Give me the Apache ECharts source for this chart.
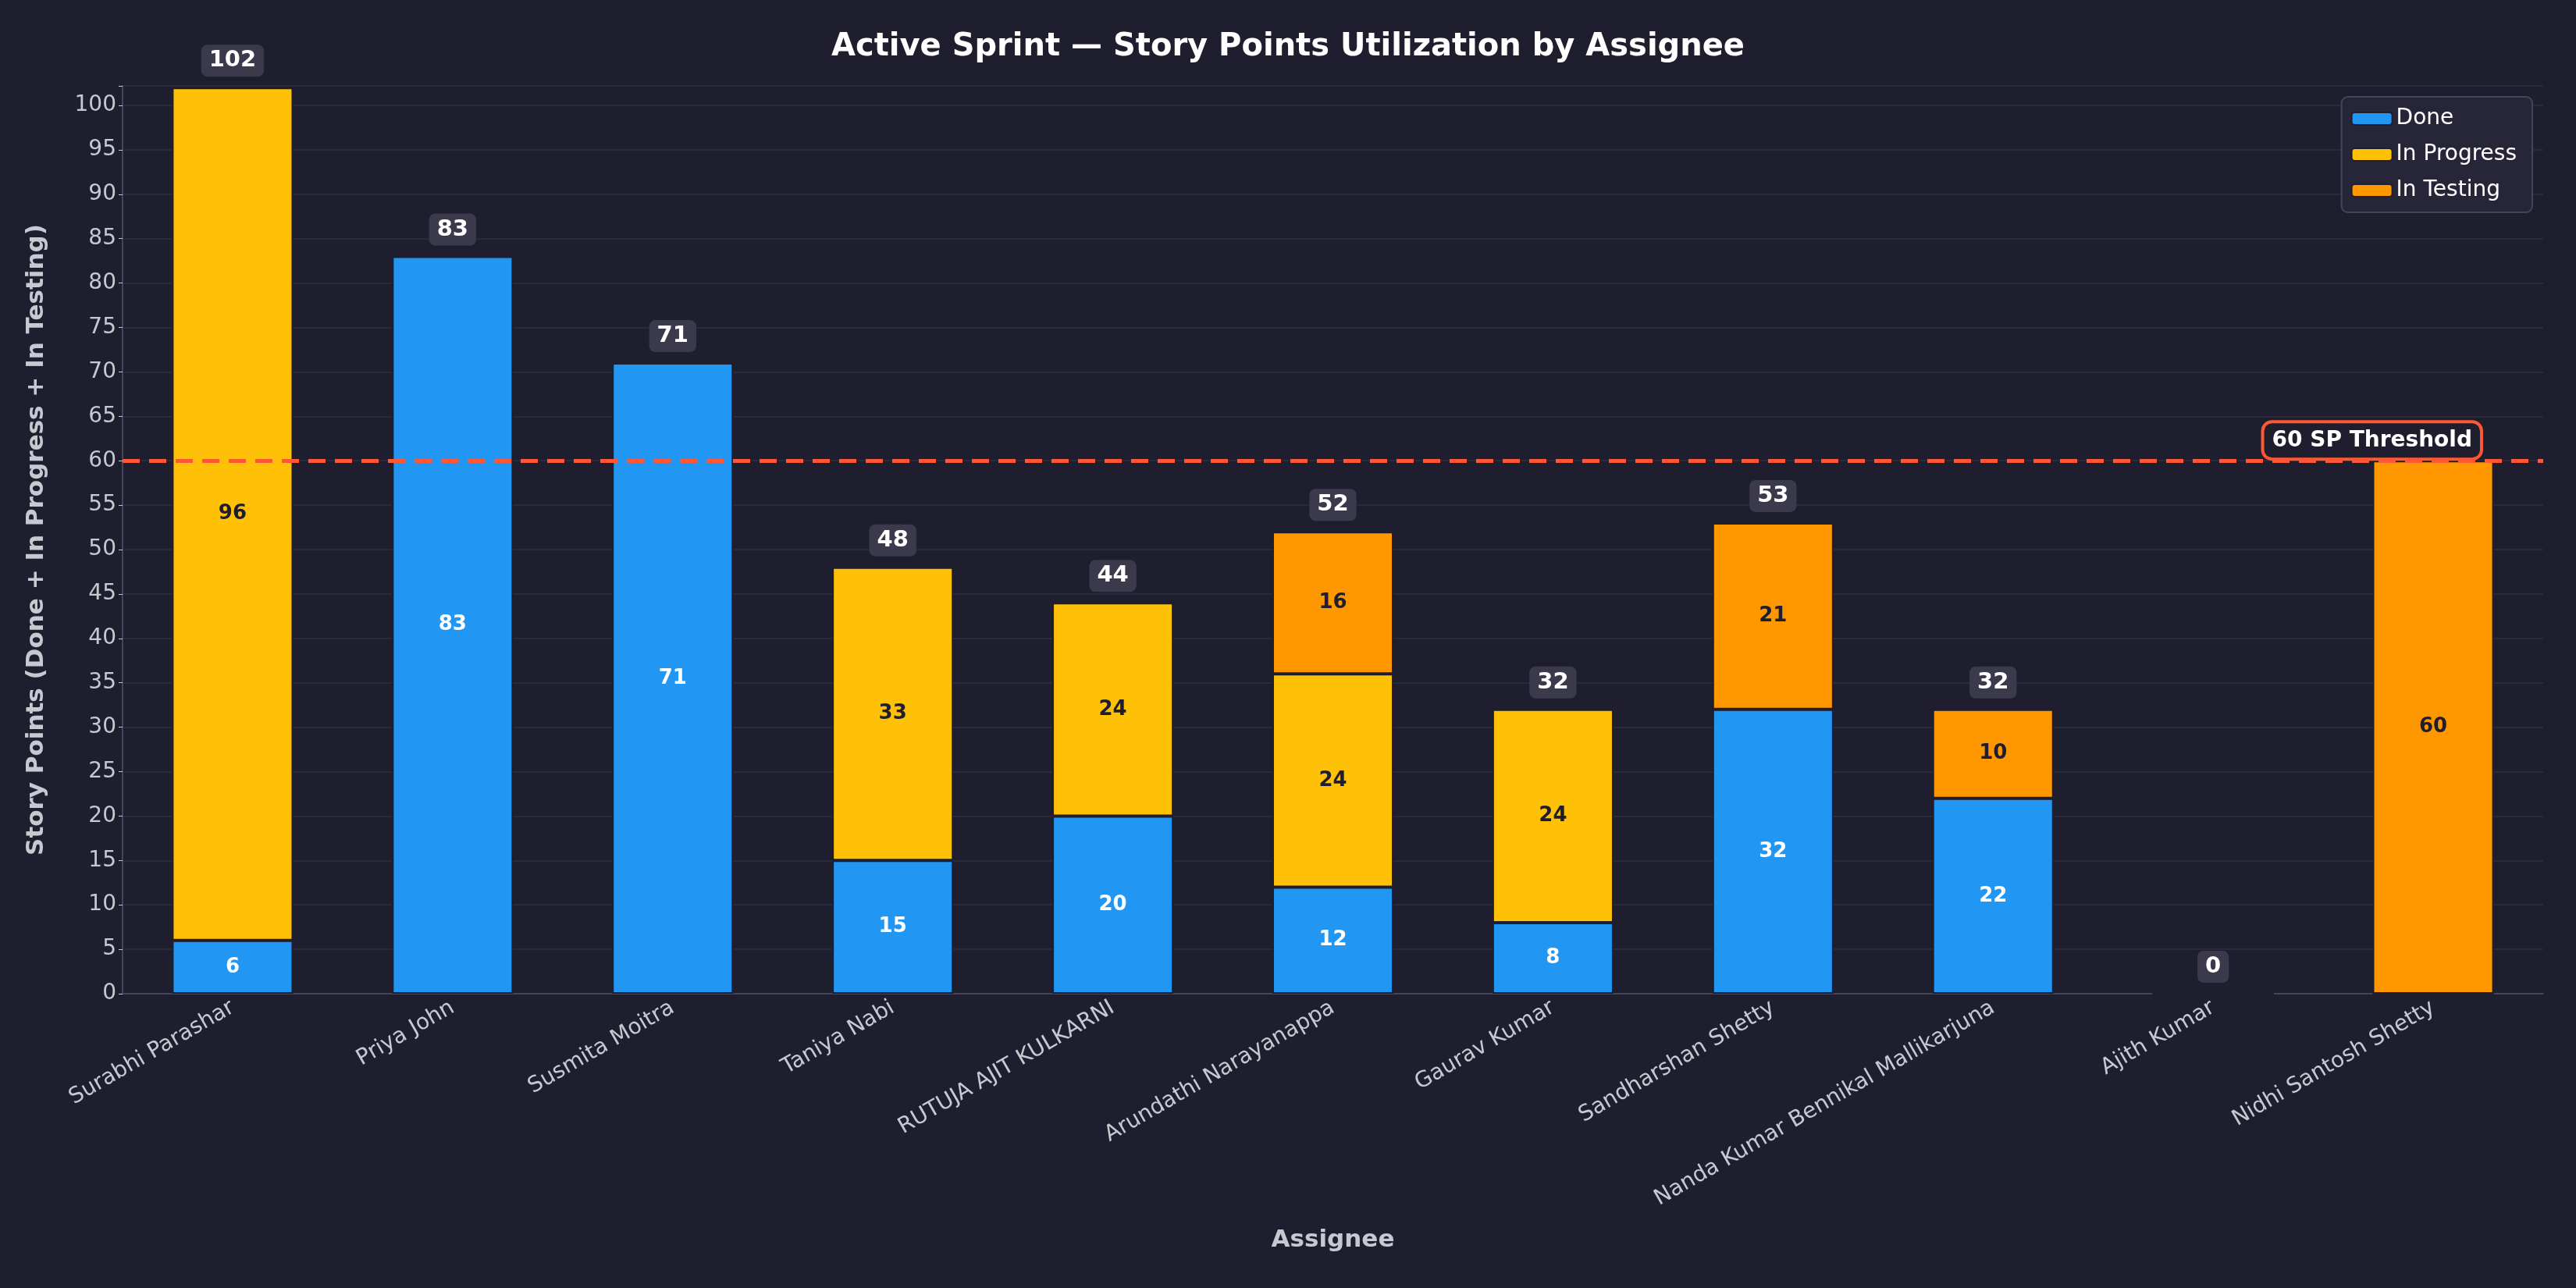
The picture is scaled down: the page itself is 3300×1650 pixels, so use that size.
<!DOCTYPE html>
<html>
<head>
<meta charset="utf-8">
<script src="https://cdn.jsdelivr.net/npm/echarts@6/dist/echarts.min.js"></script>
<style>
  html, body { margin: 0; padding: 0; background: #1e1e2e; }
  #chart { width: 3300px; height: 1650px; }
</style>
</head>
<body>
<div id="chart"></div>
<script>
const assignees = ['Surabhi Parashar', 'Priya John', 'Susmita Moitra', 'Taniya Nabi', 'RUTUJA AJIT KULKARNI',
    'Arundathi Narayanappa', 'Gaurav Kumar', 'Sandharshan Shetty', 'Nanda Kumar Bennikal Mallikarjuna',
    'Ajith Kumar', 'Nidhi Santosh Shetty'];
const done = [6, 83, 71, 15, 20, 12, 8, 32, 22, 0, 0];
const inProgress = [96, 0, 0, 33, 24, 24, 24, 0, 0, 0, 0];
const inTesting = [0, 0, 0, 0, 0, 16, 0, 21, 10, 0, 60];
const threshold = 60;
// totals, Nidhi has no box in the reference (threshold label sits there)
const totals = assignees.map((n, i) => done[i] + inProgress[i] + inTesting[i]);
const showTotal = assignees.map((n, i) => i !== 10);

const font = 'DejaVu Sans';
let chart = echarts.init(document.getElementById('chart'));

function segLabel(color) {
    return {
        show: true,
        position: 'inside',
        color: color,
        fontFamily: font,
        fontWeight: 'bold',
        fontSize: 26,
        formatter: p => p.value > 0 ? p.value : ''
    };
}

let option = {
    backgroundColor: '#1e1e2e',
    animation: false,
    title: {
        text: 'Active Sprint — Story Points Utilization by Assignee',
        left: 'center',
        top: 36,
        textStyle: { color: '#ffffff', fontFamily: font, fontWeight: 'bold', fontSize: 40 }
    },
    legend: {
        data: ['Done', 'In Progress', 'In Testing'],
        orient: 'vertical',
        right: 56,
        top: 124,
        itemWidth: 52,
        itemHeight: 16,
        itemGap: 18,
        padding: [14, 20, 14, 12],
        backgroundColor: '#262638',
        borderColor: '#44445a',
        borderWidth: 2,
        borderRadius: 8,
        textStyle: { color: '#ffffff', fontFamily: font, fontSize: 28 }
    },
    grid: { left: 157, right: 42, top: 110, bottom: 377 },
    xAxis: {
        type: 'category',
        data: assignees,
        name: 'Assignee',
        nameLocation: 'middle',
        nameGap: 300,
        nameTextStyle: { color: '#c8c8d0', fontFamily: font, fontWeight: 'bold', fontSize: 31 },
        axisLine: { lineStyle: { color: '#44445a', width: 2 } },
        axisTick: { alignWithLabel: true, lineStyle: { color: '#c8c8d0' } },
        axisLabel: { rotate: 30, color: '#c8c8d0', fontFamily: font, fontSize: 28, interval: 0, margin: 16 }
    },
    yAxis: {
        type: 'value',
        min: 0,
        max: 102.2,
        interval: 5,
        name: 'Story Points (Done + In Progress + In Testing)',
        nameLocation: 'middle',
        nameGap: 95,
        nameTextStyle: { color: '#c8c8d0', fontFamily: font, fontWeight: 'bold', fontSize: 31 },
        axisLine: { show: true, lineStyle: { color: '#44445a', width: 2 } },
        axisTick: { show: true, lineStyle: { color: '#c8c8d0' } },
        axisLabel: {
            color: '#c8c8d0', fontFamily: font, fontSize: 28,
            formatter: v => (v % 5 === 0 ? v : '')
        },
        splitLine: { lineStyle: { color: '#2a2a3c', width: 2 } }
    },
    series: [{
        name: 'Done',
        type: 'bar',
        stack: 'sp',
        barWidth: '55%',
        data: done,
        itemStyle: { color: '#2196f3', borderColor: '#1e1e2e', borderWidth: 2 },
        label: segLabel('#ffffff'),
        markLine: {
            symbol: 'none',
            silent: true,
            lineStyle: { color: '#ff5733', type: [22, 12], width: 5 },
            label: {
                show: true,
                position: 'insideEndTop',
                formatter: '60 SP Threshold',
                color: '#ffffff',
                fontFamily: font,
                fontWeight: 'bold',
                fontSize: 28,
                backgroundColor: '#1e1e2e',
                borderColor: '#ff5733',
                borderWidth: 4,
                borderRadius: 10,
                padding: [8, 10],
                offset: [-77, 0],
                distance: 4
            },
            data: [{ yAxis: threshold }]
        }
    }, {
        name: 'In Progress',
        type: 'bar',
        stack: 'sp',
        data: inProgress,
        itemStyle: { color: '#ffc107', borderColor: '#1e1e2e', borderWidth: 2 },
        label: segLabel('#1e1e2e')
    }, {
        name: 'In Testing',
        type: 'bar',
        stack: 'sp',
        data: inTesting,
        itemStyle: { color: '#ff9800', borderColor: '#1e1e2e', borderWidth: 2 },
        label: segLabel('#1e1e2e')
    }, {
        name: 'Total',
        type: 'bar',
        stack: 'sp',
        data: totals.map(() => 0),
        itemStyle: { color: 'transparent' },
        label: {
            show: true,
            position: 'top',
            distance: 14,
            formatter: p => showTotal[p.dataIndex] ? String(totals[p.dataIndex]) : '',
            color: '#ffffff',
            fontFamily: font,
            fontWeight: 'bold',
            fontSize: 29,
            backgroundColor: '#3a3a4c',
            borderRadius: 8,
            padding: [6, 10]
        }
    }]
};
chart.setOption(option);
</script>
</body>
</html>
